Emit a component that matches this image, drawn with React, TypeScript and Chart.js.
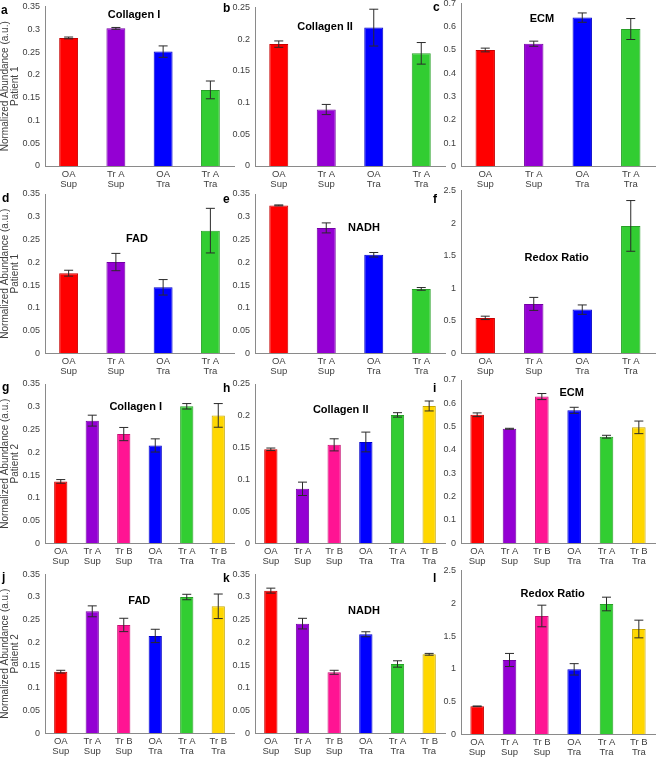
import React, { useEffect, useRef } from 'react';
import { Chart, registerables } from 'chart.js';
Chart.register(...registerables);

// ---------- data ----------
const groups4 = [['OA', 'Sup'], ['Tr A', 'Sup'], ['OA', 'Tra'], ['Tr A', 'Tra']];
const groups6 = [['OA', 'Sup'], ['Tr A', 'Sup'], ['Tr B', 'Sup'], ['OA', 'Tra'], ['Tr A', 'Tra'], ['Tr B', 'Tra']];

const RED = '#ff0000';
const PURPLE = '#9400d3';
const PINK = '#ff1493';
const BLUE = '#0000ff';
const GREEN = '#32cd32';
const GOLD = '#ffd700';
const colors4 = [RED, PURPLE, BLUE, GREEN];
const colors6 = [RED, PURPLE, PINK, BLUE, GREEN, GOLD];

const ticks035 = [0, 0.05, 0.1, 0.15, 0.2, 0.25, 0.3, 0.35];
const ticks025 = [0, 0.05, 0.1, 0.15, 0.2, 0.25];
const ticks07 = [0, 0.1, 0.2, 0.3, 0.4, 0.5, 0.6, 0.7];
const ticks25 = [0, 0.5, 1, 1.5, 2, 2.5];

const collagenI_P1 = [0.281, 0.302, 0.251, 0.167];
const collagenI_P1_err = [0.002, 0.002, 0.0125, 0.0195];
const collagenII_P1 = [0.192, 0.089, 0.218, 0.1775];
const collagenII_P1_err = [0.005, 0.008, 0.029, 0.017];
const ecm_P1 = [0.5, 0.527, 0.639, 0.59];
const ecm_P1_err = [0.008, 0.011, 0.02, 0.045];
const fad_P1 = [0.176, 0.2005, 0.145, 0.2695];
const fad_P1_err = [0.0065, 0.019, 0.017, 0.049];
const nadh_P1 = [0.325, 0.2755, 0.2165, 0.1415];
const nadh_P1_err = [0.001, 0.011, 0.005, 0.003];
const redox_P1 = [0.545, 0.76, 0.672, 1.96];
const redox_P1_err = [0.026, 0.1, 0.072, 0.39];

const collagenI_P2 = [0.136, 0.2695, 0.24, 0.215, 0.301, 0.281];
const collagenI_P2_err = [0.004, 0.012, 0.0145, 0.0145, 0.006, 0.026];
const collagenII_P2 = [0.1475, 0.0855, 0.1545, 0.159, 0.2015, 0.2155];
const collagenII_P2_err = [0.002, 0.0105, 0.0095, 0.0155, 0.0035, 0.0078];
const ecm_P2 = [0.551, 0.491, 0.629, 0.57, 0.457, 0.497];
const ecm_P2_err = [0.008, 0.002, 0.013, 0.013, 0.006, 0.027];
const fad_P2 = [0.1357, 0.2685, 0.2385, 0.2143, 0.3, 0.2796];
const fad_P2_err = [0.003, 0.012, 0.0147, 0.0147, 0.006, 0.027];
const nadh_P2 = [0.314, 0.2414, 0.1343, 0.218, 0.1526, 0.1739];
const nadh_P2_err = [0.0055, 0.0117, 0.0044, 0.0055, 0.007, 0.002];
const redox_P2 = [0.4275, 1.135, 1.807, 0.992, 1.99, 1.608];
const redox_P2_err = [0.005, 0.1, 0.165, 0.087, 0.104, 0.135];

const yLabelP1 = ['Normalized Abundance (a.u.)', 'Patient 1'];
const yLabelP2 = ['Normalized Abundance (a.u.)', 'Patient 2'];

// ---------- layout / style ----------
const FONT = '"Liberation Sans", Arial, Helvetica, sans-serif';
const TICK = '#404040';
const AXIS = '#8a8a8a';
const XH = 23;
const PAGE_H = 757;
const COL_LEFT = [0, 220, 431];
const ROW_TOP = [0, 184, 374, 563];

type Panel = {
  letter: string;
  title: string;
  labels: string[][];
  colors: string[];
  values: number[];
  errors: number[];
  ticks: number[];
  yLabel?: string[];
  col: number;
  row: number;
  L: number; R: number; T: number; B: number;
  letterPos: [number, number];
  titlePos: [number, number];
};

const panels: Panel[] = [
  { letter: 'a', title: 'Collagen I', labels: groups4, colors: colors4, values: collagenI_P1, errors: collagenI_P1_err, ticks: ticks035, yLabel: yLabelP1, col: 0, row: 0, L: 45, R: 234, T: 6.5, B: 166, letterPos: [1, 14], titlePos: [134, 15] },
  { letter: 'b', title: 'Collagen II', labels: groups4, colors: colors4, values: collagenII_P1, errors: collagenII_P1_err, ticks: ticks025, col: 1, row: 0, L: 255, R: 445, T: 7.3, B: 166, letterPos: [223, 12], titlePos: [325, 27] },
  { letter: 'c', title: 'ECM', labels: groups4, colors: colors4, values: ecm_P1, errors: ecm_P1_err, ticks: ticks07, col: 2, row: 0, L: 461, R: 655, T: 3.4, B: 166.5, letterPos: [433, 11], titlePos: [542, 19.3] },
  { letter: 'd', title: 'FAD', labels: groups4, colors: colors4, values: fad_P1, errors: fad_P1_err, ticks: ticks035, yLabel: yLabelP1, col: 0, row: 1, L: 45, R: 234, T: 194, B: 353.3, letterPos: [2, 202], titlePos: [137, 239] },
  { letter: 'e', title: 'NADH', labels: groups4, colors: colors4, values: nadh_P1, errors: nadh_P1_err, ticks: ticks035, col: 1, row: 1, L: 255, R: 445, T: 194, B: 353.3, letterPos: [223, 203], titlePos: [364, 227.7] },
  { letter: 'f', title: 'Redox Ratio', labels: groups4, colors: colors4, values: redox_P1, errors: redox_P1_err, ticks: ticks25, col: 2, row: 1, L: 461, R: 655, T: 190.8, B: 353.3, letterPos: [433, 203], titlePos: [556.7, 258.3] },
  { letter: 'g', title: 'Collagen I', labels: groups6, colors: colors6, values: collagenI_P2, errors: collagenI_P2_err, ticks: ticks035, yLabel: yLabelP2, col: 0, row: 2, L: 45, R: 234, T: 384, B: 543.3, letterPos: [2, 391], titlePos: [135.7, 406.7] },
  { letter: 'h', title: 'Collagen II', labels: groups6, colors: colors6, values: collagenII_P2, errors: collagenII_P2_err, ticks: ticks025, col: 1, row: 2, L: 255, R: 445, T: 384, B: 543.3, letterPos: [223, 392], titlePos: [340.7, 410] },
  { letter: 'i', title: 'ECM', labels: groups6, colors: colors6, values: ecm_P2, errors: ecm_P2_err, ticks: ticks07, col: 2, row: 2, L: 461, R: 655, T: 380, B: 543.3, letterPos: [433, 392], titlePos: [571.7, 393.3] },
  { letter: 'j', title: 'FAD', labels: groups6, colors: colors6, values: fad_P2, errors: fad_P2_err, ticks: ticks035, yLabel: yLabelP2, col: 0, row: 3, L: 45, R: 234, T: 574.3, B: 733.3, letterPos: [2, 581], titlePos: [139.3, 601] },
  { letter: 'k', title: 'NADH', labels: groups6, colors: colors6, values: nadh_P2, errors: nadh_P2_err, ticks: ticks035, col: 1, row: 3, L: 255, R: 445, T: 574.3, B: 733.3, letterPos: [223, 582], titlePos: [364, 610.7] },
  { letter: 'l', title: 'Redox Ratio', labels: groups6, colors: colors6, values: redox_P2, errors: redox_P2_err, ticks: ticks25, col: 2, row: 3, L: 461, R: 655, T: 570.6, B: 734.3, letterPos: [433, 582], titlePos: [552.7, 594.3] },
];

function darken(hex: string, f: number) {
  const n = parseInt(hex.slice(1), 16);
  const r = Math.round(((n >> 16) & 255) * f);
  const g = Math.round(((n >> 8) & 255) * f);
  const b = Math.round((n & 255) * f);
  return `rgb(${r},${g},${b})`;
}

function zeroPad(s: any) {
  s.paddingTop = 0;
  s.paddingBottom = 0;
  s.paddingLeft = 0;
  s.paddingRight = 0;
}

function PanelChart({ p }: { p: Panel }) {
  const ref = useRef<HTMLCanvasElement>(null);
  const cx = COL_LEFT[p.col];
  const cy = ROW_TOP[p.row];
  const width = Math.round(p.R - cx + 1);
  const height = Math.round(Math.min(p.B + XH, PAGE_H) - cy);
  const yW = p.L - cx;
  const xH = height - (p.B - cy);

  useEffect(() => {
    if (!ref.current) return;
    const extras = {
      id: 'extras-' + p.letter,
      afterDatasetsDraw(chart: any) {
        const ctx = chart.ctx;
        const meta = chart.getDatasetMeta(0);
        const ys = chart.scales.y;
        ctx.save();
        ctx.strokeStyle = '#2a2a2a';
        ctx.lineWidth = 1;
        const cap = 4.5;
        p.values.forEach((v, i) => {
          const e = p.errors[i];
          const x = meta.data[i].x;
          const y1 = ys.getPixelForValue(v + e);
          const y2 = ys.getPixelForValue(v - e);
          ctx.beginPath();
          ctx.moveTo(x, y1);
          ctx.lineTo(x, y2);
          ctx.moveTo(x - cap, y1);
          ctx.lineTo(x + cap, y1);
          ctx.moveTo(x - cap, y2);
          ctx.lineTo(x + cap, y2);
          ctx.stroke();
        });
        ctx.restore();
      },
      afterDraw(chart: any) {
        const ctx = chart.ctx;
        ctx.save();
        ctx.fillStyle = '#000';
        ctx.font = `bold 11px ${FONT}`;
        ctx.textAlign = 'center';
        ctx.textBaseline = 'middle';
        ctx.fillText(p.title, p.titlePos[0] - cx, p.titlePos[1] - cy);
        ctx.font = `bold 12px ${FONT}`;
        ctx.textAlign = 'left';
        ctx.textBaseline = 'alphabetic';
        ctx.fillText(p.letter, p.letterPos[0] - cx, p.letterPos[1] - cy);
        ctx.restore();
      },
    };

    const chart = new Chart(ref.current, {
      type: 'bar',
      data: {
        labels: p.labels as any,
        datasets: [
          {
            data: p.values,
            backgroundColor: p.colors,
            borderColor: p.colors.map((c) => darken(c, 0.78)),
            borderWidth: 1,
            barPercentage: p.values.length === 4 ? 0.4 : 0.42,
            categoryPercentage: 1,
          },
        ],
      },
      options: {
        responsive: false,
        animation: false,
        devicePixelRatio: 1,
        layout: { padding: { top: p.T - cy, right: 1, left: 0, bottom: 0 }, autoPadding: false },
        plugins: { legend: { display: false }, tooltip: { enabled: false }, title: { display: false } },
        scales: {
          x: {
            type: 'category',
            offset: true,
            grid: { display: false, drawTicks: false },
            border: { display: true, color: AXIS, width: 1, z: 1 },
            ticks: {
              color: TICK,
              font: { family: FONT, size: 9.5, lineHeight: '10px' },
              padding: 3,
              maxRotation: 0,
              autoSkip: false,
            },
            afterFit: (s: any) => {
              s.height = xH;
              zeroPad(s);
            },
          },
          y: {
            type: 'linear',
            min: p.ticks[0],
            max: p.ticks[p.ticks.length - 1],
            grid: { display: false, drawTicks: false },
            border: { display: true, color: AXIS, width: 1, z: 1 },
            ticks: {
              color: TICK,
              font: { family: FONT, size: 9 },
              padding: 5,
              callback: (v: any) => String(v),
            },
            afterBuildTicks: (s: any) => {
              s.ticks = p.ticks.map((v) => ({ value: v }));
            },
            afterFit: (s: any) => {
              s.width = yW;
              zeroPad(s);
            },
            title: {
              display: !!p.yLabel,
              text: p.yLabel || '',
              color: TICK,
              font: { family: FONT, size: 10, lineHeight: '9.5px' },
              padding: { top: 0.5, bottom: 0 },
            },
          },
        },
      } as any,
      plugins: [extras],
    });
    return () => chart.destroy();
  }, []);

  return (
    <canvas
      ref={ref}
      width={width}
      height={height}
      style={{ position: 'absolute', left: cx, top: cy, width, height }}
    />
  );
}

export default function App() {
  return (
    <div style={{ position: 'absolute', left: 0, top: 0, width: 656, height: 757, overflow: 'hidden', background: '#fff' }}>
      {panels.map((p) => (
        <PanelChart key={p.letter} p={p} />
      ))}
    </div>
  );
}
